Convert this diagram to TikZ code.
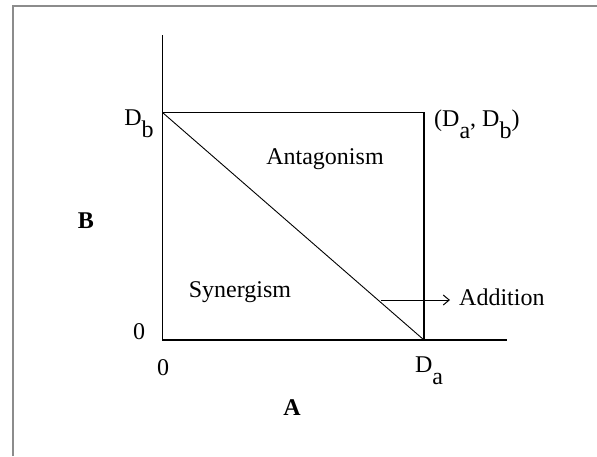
\documentclass[tikz,border=0pt]{standalone}
\usepackage{fontspec}
\setmainfont{Liberation Serif}
\usetikzlibrary{arrows.meta, positioning}
\newcommand{\lowsub}[1]{\raisebox{-12pt}{#1}}
\tikzset{
  frameline/.style={draw=gray!90, line width=2pt},
  axisline/.style={draw=black, line width=1.4pt},
  boxline/.style={draw=black, line width=1.4pt},
  diagline/.style={draw=black, line width=0.9pt},
  regionlabel/.style={font=\fontsize{24}{28}\selectfont, inner sep=1pt},
  ticklabel/.style={font=\fontsize{24}{28}\selectfont, inner sep=1pt},
  axislabel/.style={font=\fontsize{24}{28}\selectfont\bfseries, inner sep=1pt},
  addarrow/.style={-{Straight Barb[length=6pt, width=10pt]}, line width=1pt},
}
\begin{document}
\begin{tikzpicture}[x=1pt, y=-1pt]
  \useasboundingbox (0,0) rectangle (597,456);
  % Frame
  \draw[frameline] (13,456) -- (13,6) -- (597,6);

  % Axes
  \coordinate (origin) at (162.5,340);
  \coordinate (ytop) at (162.5,35);
  \coordinate (xend) at (507,340);
  \draw[axisline] (ytop) -- (origin) -- (xend);

  % Box and additivity line
  \coordinate (dbpt) at (162.5,112.5);
  \coordinate (corner) at (424,112.5);
  \coordinate (dapt) at (424,340);
  \draw[boxline] (dbpt) -- (corner) -- (dapt);
  \draw[diagline] (dbpt) -- (dapt);

  % Tick labels
  \node[ticklabel] (dblabel) at (139,124) {D\lowsub{b}};
  \node[ticklabel, anchor=west] (cornerlabel) at (433,124)
    {(D\lowsub{a}, D\lowsub{b})};
  \node[ticklabel] (zeroy) at (139,332) {0};
  \node[ticklabel] (zerox) at (163,368) {0};
  \node[ticklabel] (dalabel) at (429,371) {D\lowsub{a}};

  % Axis labels
  \node[axislabel] (blabel) at (86,221) {B};
  \node[axislabel] (alabel) at (292,408) {A};

  % Regions
  \node[regionlabel] (antag) at (325,159) {Antagonism};
  \node[regionlabel] (synerg) at (240,292) {Synergism};
  \node[regionlabel, anchor=west] (addition) at (458,297) {Addition};
  \coordinate (addstart) at (381,300);
  \draw[addarrow] (addstart) -- ([xshift=-8pt]addition.west |- addstart);
\end{tikzpicture}
\end{document}
